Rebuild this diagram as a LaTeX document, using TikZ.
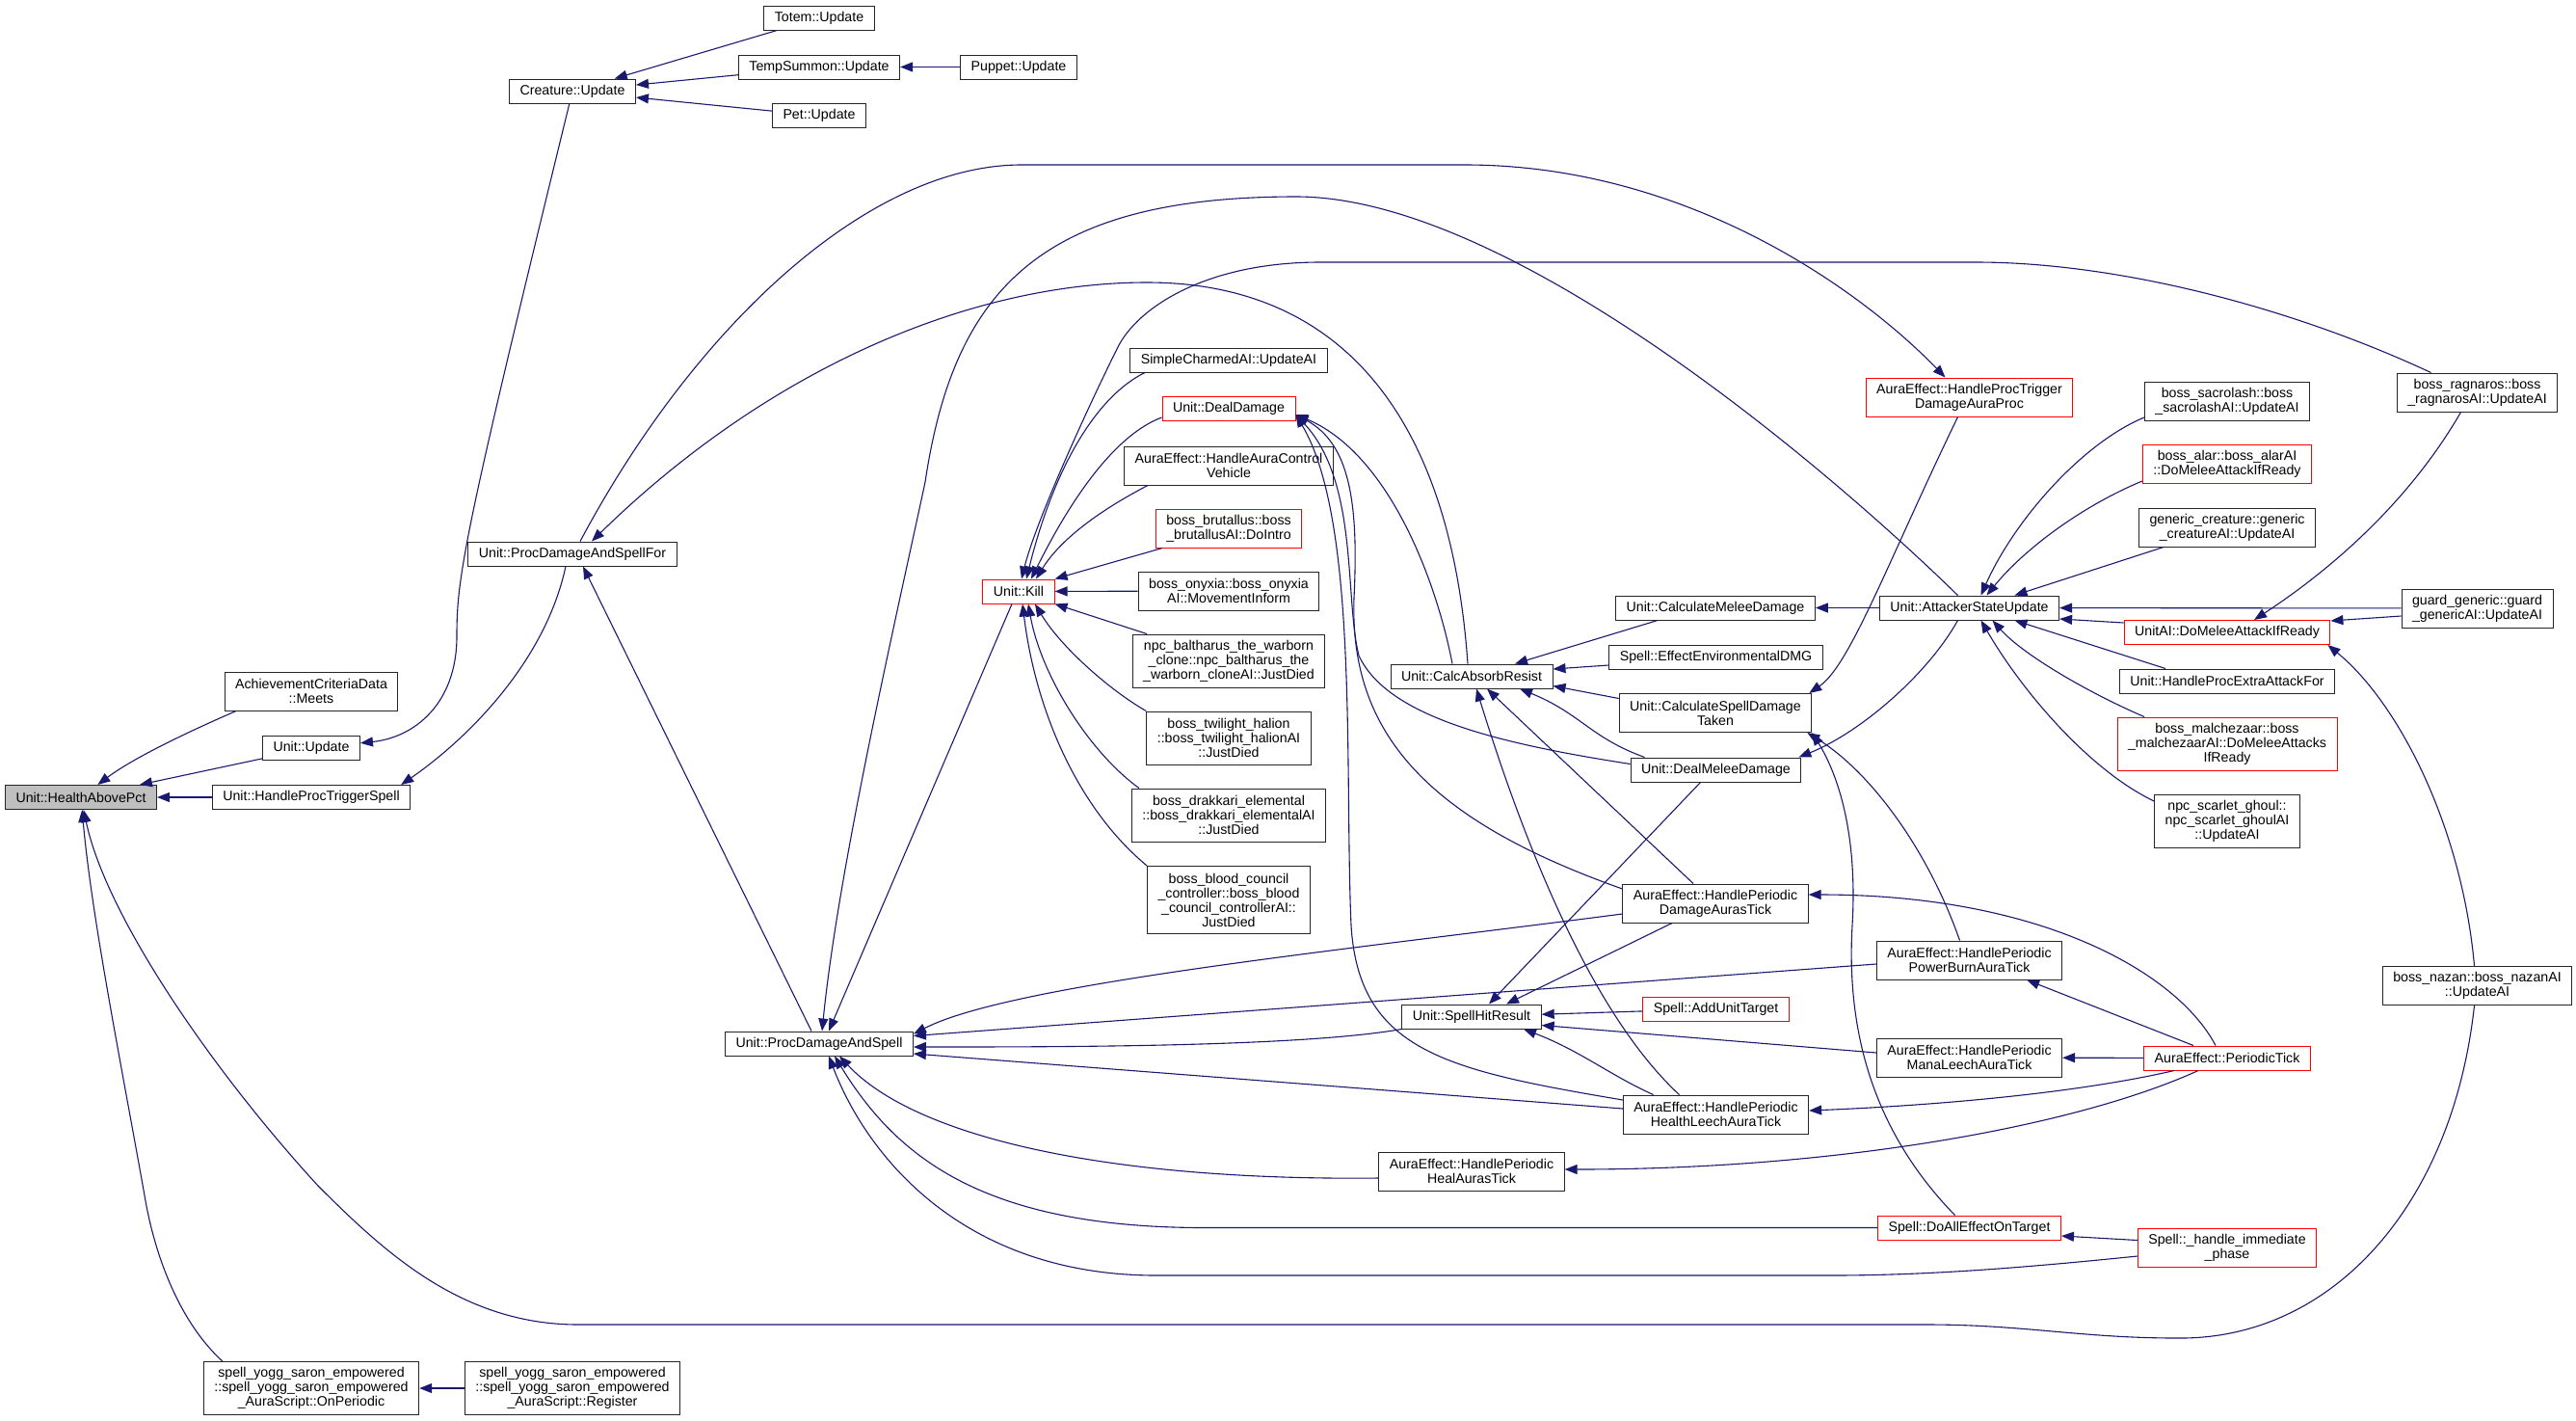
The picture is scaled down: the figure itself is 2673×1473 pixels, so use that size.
\documentclass[tikz,border=0pt]{standalone}
\usepackage{fontspec}
\setmainfont{Liberation Sans}
\usetikzlibrary{arrows.meta}
\definecolor{edgeblue}{HTML}{191970}
\definecolor{rootgray}{HTML}{BFBFBF}

\tikzset{
  fn/.style={draw=black!85, line width=1pt, fill=white, inner xsep=11pt, inner ysep=3pt,
    minimum height=25pt, align=center, font=\fontsize{14.2}{15}\selectfont},
  fnred/.style={fn, draw=red},
  two/.style={minimum height=40pt},
  three/.style={minimum height=55pt},
  four/.style={minimum height=70pt},
  call/.style={draw=edgeblue, line width=1.1pt, -{Triangle[length=13pt,width=10pt]}}
}

\begin{document}
\begin{tikzpicture}[x=1pt,y=-1pt]
\useasboundingbox (0,0) rectangle (2673,1473);

% the function itself and its direct callers
\node[fn, fill=rootgray] (hap) at (84,827) {Unit::HealthAbovePct};
\node[fn, two] (acm) at (323,717) {AchievementCriteriaData\\::Meets};
\node[fn] (uupd) at (323,776) {Unit::Update};
\node[fn] (hpts) at (323,827) {Unit::HandleProcTriggerSpell};
\node[fn, three] (yop) at (323,1440) {spell\_yogg\_saron\_empowered\\::spell\_yogg\_saron\_empowered\\\_AuraScript::OnPeriodic};

% second level
\node[fn] (cupd) at (594,94.5) {Creature::Update};
\node[fn] (pdsf) at (594,574.5) {Unit::ProcDamageAndSpellFor};
\node[fn, three] (yreg) at (594,1440) {spell\_yogg\_saron\_empowered\\::spell\_yogg\_saron\_empowered\\\_AuraScript::Register};

\node[fn] (totem) at (850,18.5) {Totem::Update};
\node[fn] (tsum) at (850,69.5) {TempSummon::Update};
\node[fn] (pet) at (850,120) {Pet::Update};
\node[fn] (pds) at (850,1082.5) {Unit::ProcDamageAndSpell};

\node[fn] (puppet) at (1057,69.5) {Puppet::Update};
\node[fnred] (kill) at (1057,613.5) {Unit::Kill};

% callers of Unit::Kill
\node[fn] (scai) at (1275,373.5) {SimpleCharmedAI::UpdateAI};
\node[fnred] (ddmg) at (1275,424) {Unit::DealDamage};
\node[fn, two] (acv) at (1275,483) {AuraEffect::HandleAuraControl\\Vehicle};
\node[fnred, two] (brut) at (1275,548) {boss\_brutallus::boss\\\_brutallusAI::DoIntro};
\node[fn, two] (onyx) at (1275,613) {boss\_onyxia::boss\_onyxia\\AI::MovementInform};
\node[fn, three] (balt) at (1275,685.5) {npc\_baltharus\_the\_warborn\\\_clone::npc\_baltharus\_the\\\_warborn\_cloneAI::JustDied};
\node[fn, three] (halion) at (1275,765.5) {boss\_twilight\_halion\\::boss\_twilight\_halionAI\\::JustDied};
\node[fn, three] (drak) at (1275,845.5) {boss\_drakkari\_elemental\\::boss\_drakkari\_elementalAI\\::JustDied};
\node[fn, four] (blood) at (1275,933.5) {boss\_blood\_council\\\_controller::boss\_blood\\\_council\_controllerAI::\\JustDied};

\node[fn] (car) at (1527,701.5) {Unit::CalcAbsorbResist};
\node[fn] (shr) at (1527,1054.5) {Unit::SpellHitResult};
\node[fn, two] (heal) at (1527,1215) {AuraEffect::HandlePeriodic\\HealAurasTick};

\node[fn] (cmd) at (1780,630.5) {Unit::CalculateMeleeDamage};
\node[fn] (eed) at (1780.5,681.5) {Spell::EffectEnvironmentalDMG};
\node[fn, two] (csdt) at (1780,739.5) {Unit::CalculateSpellDamage\\Taken};
\node[fn] (dmd) at (1780.5,798.5) {Unit::DealMeleeDamage};
\node[fn, two] (dat) at (1780,937) {AuraEffect::HandlePeriodic\\DamageAurasTick};
\node[fnred] (aut) at (1780.5,1046.5) {Spell::AddUnitTarget};
\node[fn, two] (hlt) at (1780.5,1156) {AuraEffect::HandlePeriodic\\HealthLeechAuraTick};

\node[fnred, two] (hptd) at (2043.5,412) {AuraEffect::HandleProcTrigger\\DamageAuraProc};
\node[fn] (asu) at (2043.5,630.5) {Unit::AttackerStateUpdate};
\node[fn, two] (pbt) at (2043.5,996) {AuraEffect::HandlePeriodic\\PowerBurnAuraTick};
\node[fn, two] (mlt) at (2043.5,1097) {AuraEffect::HandlePeriodic\\ManaLeechAuraTick};
\node[fnred] (daeot) at (2043.5,1273.5) {Spell::DoAllEffectOnTarget};

% callers of Unit::AttackerStateUpdate
\node[fn, two] (sacro) at (2311,416) {boss\_sacrolash::boss\\\_sacrolashAI::UpdateAI};
\node[fnred, two] (alar) at (2311,481) {boss\_alar::boss\_alarAI\\::DoMeleeAttackIfReady};
\node[fn, two] (gencr) at (2311,547) {generic\_creature::generic\\\_creatureAI::UpdateAI};
\node[fnred] (uaidm) at (2311,656) {UnitAI::DoMeleeAttackIfReady};
\node[fn] (hpea) at (2311,706.5) {Unit::HandleProcExtraAttackFor};
\node[fnred, three] (malch) at (2311,771.5) {boss\_malchezaar::boss\\\_malchezaarAI::DoMeleeAttacks\\IfReady};
\node[fn, three] (ghoul) at (2311,852) {npc\_scarlet\_ghoul::\\npc\_scarlet\_ghoulAI\\::UpdateAI};
\node[fnred] (ptick) at (2311,1097.5) {AuraEffect::PeriodicTick};
\node[fnred, two] (himm) at (2311,1294.5) {Spell::\_handle\_immediate\\\_phase};

\node[fn, two] (ragn) at (2570.5,407) {boss\_ragnaros::boss\\\_ragnarosAI::UpdateAI};
\node[fn, two] (guard) at (2570.5,631) {guard\_generic::guard\\\_genericAI::UpdateAI};
\node[fn, two] (nazan) at (2570.5,1022.5) {boss\_nazan::boss\_nazanAI\\::UpdateAI};

% plain straight calls
\foreach \a/\b in {totem/cupd, tsum/cupd, pet/cupd, puppet/tsum, uupd/hap, hpts/hap,
                   yreg/yop, asu/cmd, onyx/kill, aut/shr, ptick/mlt, guard/asu}
  \draw[call] (\a) -- (\b);

% into Unit::HealthAbovePct
\draw[call] (cupd) .. controls (480,560) and (474,600) .. (474,660) .. controls (474,730) and (430,765) .. (uupd);
\draw[call] ([xshift=-78pt]acm.south) .. controls (200,757) and (140,785) .. (hap);
\draw[call] ([xshift=20pt]yop.north west) .. controls (185,1370) and (160,1300) .. (150,1240)
            .. controls (125,1100) and (95,950) .. (hap);
\draw[call] ([xshift=-3pt]nazan.south) .. controls (2545,1250) and (2420,1390) .. (2259,1388)
            .. controls (2160,1388) and (2100,1374) .. (2000,1374) -- (600,1374)
            .. controls (480,1374) and (400,1300) .. (330,1230) .. controls (220,1110) and (110,950) .. (hap);

% around Unit::ProcDamageAndSpellFor
\draw[call] ([xshift=-7pt]pdsf.south) .. controls (565,690) and (480,770) .. ([xshift=-10pt]hpts.north east);
\draw[call] ([xshift=-8pt]pds.north) -- ([xshift=11pt]pdsf.south);
\draw[call] ([xshift=8pt]pdsf.north) .. controls (720,340) and (900,171) .. (1060,171) -- (1520,171)
            .. controls (1750,171) and (1930,300) .. ([xshift=-25pt]hptd.north);
\draw[call] ([xshift=-4pt]car.north) .. controls (1505,430) and (1390,293) .. (1190,293)
            .. controls (1010,293) and (800,380) .. ([xshift=20pt]pdsf.north);

% into Unit::ProcDamageAndSpell
\draw[call] ([xshift=-12pt]asu.north) .. controls (1880,470) and (1560,204) .. (1345,204)
            .. controls (1080,204) and (990,300) .. (960,500) .. controls (930,640) and (870,900) .. ([xshift=3pt]pds.north);
\draw[call] ([xshift=-7pt]kill.south) -- ([xshift=10pt]pds.north);
\draw[call] (shr.south west) .. controls (1350,1086) and (1100,1086) .. ([yshift=-3.5pt]pds.east);
\draw[call] ([yshift=-11pt]dat.west) .. controls (1400,985) and (1050,1020) .. ([yshift=10pt]pds.east);
\draw[call] ([yshift=-4pt]pbt.west) -- ([yshift=8pt]pds.east);
\draw[call] ([yshift=6pt]hlt.west) -- ([yshift=-10.5pt]pds.east);
\draw[call] ([yshift=-7pt]heal.west) .. controls (1150,1225) and (950,1180) .. ([xshift=21pt]pds.south);
\draw[call] (daeot.west) -- (1250,1273.5) .. controls (1020,1273.5) and (930,1200) .. ([xshift=16pt]pds.south);
\draw[call] ([yshift=-8.5pt]himm.west) .. controls (2100,1315) and (2000,1323) .. (1900,1323) -- (1200,1323)
            .. controls (1000,1323) and (900,1200) .. ([xshift=10pt]pds.south);

% into Unit::CalcAbsorbResist and Unit::SpellHitResult
\draw[call] ([xshift=-12pt]asu.south) .. controls (2000,700) and (1930,760) .. ([xshift=-3pt]dmd.north east);
\draw[call] ([xshift=-60pt]cmd.south) -- ([xshift=45pt]car.north);
\draw[call] ([yshift=-8.5pt]eed.west) -- ([yshift=7.5pt]car.east);
\draw[call] ([yshift=15pt]csdt.west) -- ([yshift=-10pt]car.east);
\draw[call] ([xshift=-74pt]dmd.north) .. controls (1650,765) and (1640,740) .. ([xshift=50pt]car.south);
\draw[call] ([xshift=-23pt]dat.north) -- ([xshift=16pt]car.south);
\draw[call] ([xshift=-38pt]hlt.north) .. controls (1650,1050) and (1580,870) .. ([xshift=5pt]car.south);
\draw[call] ([xshift=-16pt]dmd.south) -- ([xshift=18pt]shr.north);
\draw[call] ([xshift=-45pt]dat.south) -- ([xshift=36pt]shr.north);
\draw[call] ([yshift=5pt]mlt.west) -- ([yshift=-9pt]shr.east);
\draw[call] ([xshift=-65pt]hlt.north) .. controls (1670,1115) and (1640,1090) .. ([xshift=54pt]shr.south);

% into Unit::DealDamage
\draw[call] ([yshift=15pt]hlt.west) .. controls (1500,1110) and (1410,1090) .. (1402,960)
            .. controls (1395,800) and (1410,540) .. ([yshift=-6pt]ddmg.east);
\draw[call] ([yshift=15pt]dat.west) .. controls (1480,850) and (1400,760) .. (1405,620)
            .. controls (1410,520) and (1400,460) .. ([yshift=-6pt]ddmg.east);
\draw[call] ([yshift=6pt]dmd.west) .. controls (1560,772) and (1440,745) .. (1410,680)
            .. controls (1395,620) and (1410,500) .. ([yshift=-6pt]ddmg.east);
\draw[call] ([xshift=-20pt]car.north) .. controls (1490,600) and (1440,470) .. ([yshift=-6pt]ddmg.east);

% into Unit::Kill
\draw[call] ([xshift=-48pt]ragn.north) .. controls (2380,320) and (2200,272) .. (2050,272) -- (1370,272)
            .. controls (1250,272) and (1180,320) .. (1160,360) .. controls (1130,420) and (1075,540) .. ([xshift=3pt]kill.north);
\draw[call] ([xshift=-87pt]scai.south) .. controls (1140,410) and (1095,480) .. ([xshift=8pt]kill.north);
\draw[call] ([yshift=-9pt]ddmg.west) .. controls (1160,450) and (1115,510) .. ([xshift=13pt]kill.north);
\draw[call] ([xshift=-84pt]acv.south) .. controls (1140,530) and (1100,560) .. ([xshift=18pt]kill.north);
\draw[call] ([xshift=-69pt]brut.south) -- (kill.north east);
\draw[call] ([xshift=-85pt]balt.north) -- (kill.south east);
\draw[call] (halion.north west) .. controls (1150,715) and (1100,670) .. ([xshift=17pt]kill.south);
\draw[call] ([xshift=8pt]drak.north west) .. controls (1130,780) and (1080,700) .. ([xshift=10pt]kill.south);
\draw[call] (blood.north west) .. controls (1120,840) and (1075,740) .. ([xshift=4pt]kill.south);

% into Unit::CalculateSpellDamageTaken
\draw[call] ([xshift=-12pt]hptd.south) .. controls (1960,580) and (1920,690) .. ([xshift=-3pt]csdt.north east);
\draw[call] ([xshift=-10pt]pbt.north) .. controls (2000,880) and (1940,800) .. ([xshift=-5pt]csdt.south east);
\draw[call] ([xshift=-15pt]daeot.north) .. controls (1950,1180) and (1915,1080) .. (1922,960)
            .. controls (1928,860) and (1905,800) .. (csdt.south east);

% AuraEffect::PeriodicTick and spell handling
\draw[call] ([xshift=-35pt]ptick.north) -- ([xshift=-37pt]pbt.south east);
\draw[call] ([xshift=-55pt]ptick.south) .. controls (2150,1135) and (2000,1147) .. ([yshift=4pt]hlt.east);
\draw[call] ([xshift=-30pt]ptick.south) .. controls (2150,1170) and (1900,1213) .. ([yshift=2pt]heal.east);
\draw[call] ([xshift=-12pt]ptick.north) .. controls (2260,1010) and (2120,928) .. ([yshift=9pt]dat.east);
\draw[call] ([yshift=8pt]himm.west) -- ([yshift=-8.5pt]daeot.east);

% into Unit::AttackerStateUpdate and UnitAI::DoMeleeAttackIfReady
\draw[call] ([yshift=-8pt]guard.west) -- ([yshift=12pt]uaidm.east);
\draw[call] ([xshift=-17pt]ragn.south) .. controls (2500,520) and (2420,590) .. ([xshift=28pt]uaidm.north);
\draw[call] ([xshift=-3pt]nazan.north) .. controls (2555,860) and (2490,730) .. ([xshift=-3pt]uaidm.south east);
\draw[call] ([yshift=10pt]uaidm.west) -- ([yshift=-11.5pt]asu.east);
\draw[call] ([yshift=-17pt]sacro.west) .. controls (2160,460) and (2090,540) .. ([xshift=12pt]asu.north);
\draw[call] ([yshift=-18pt]alar.west) .. controls (2160,525) and (2100,570) .. ([xshift=18pt]asu.north);
\draw[call] ([xshift=-66pt]gencr.south) -- ([xshift=47pt]asu.north);
\draw[call] ([xshift=-64pt]hpea.north) -- ([xshift=47pt]asu.south);
\draw[call] ([xshift=-86pt]malch.north) .. controls (2170,720) and (2100,680) .. ([xshift=24pt]asu.south);
\draw[call] ([yshift=-7pt]ghoul.north west) .. controls (2170,800) and (2100,720) .. ([xshift=12pt]asu.south);

\end{tikzpicture}
\end{document}
